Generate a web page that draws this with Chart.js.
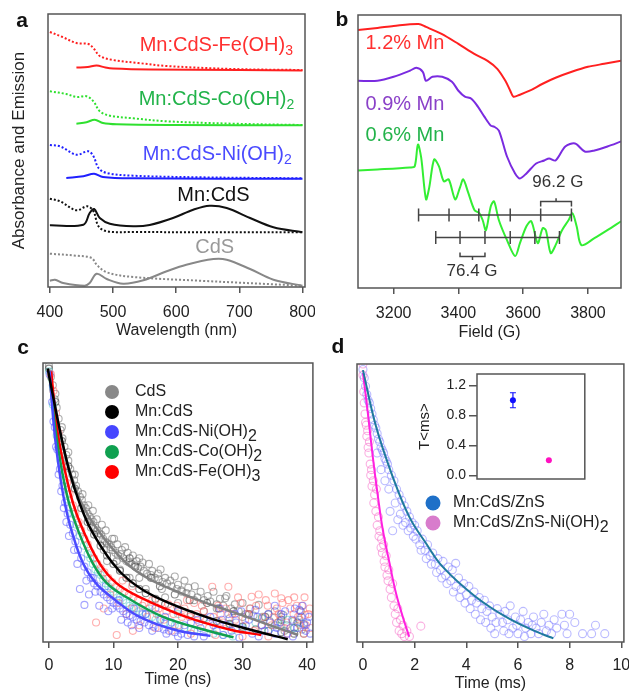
<!DOCTYPE html>
<html>
<head>
<meta charset="utf-8">
<script src="https://cdn.jsdelivr.net/npm/chart.js@4.4.0/dist/chart.umd.min.js"></script>
<style>
  html, body { margin: 0; padding: 0; background: #fff; }
  body { width: 629px; height: 695px; position: relative; overflow: hidden; }
  canvas { position: absolute; }
</style>
</head>
<body>
<canvas id="chartA" width="315" height="345" style="left:0;top:0"></canvas>
<canvas id="chartB" width="314" height="345" style="left:315px;top:0"></canvas>
<canvas id="chartC" width="318" height="360" style="left:0;top:335px"></canvas>
<canvas id="chartD" width="314" height="360" style="left:315px;top:335px"></canvas>
<canvas id="chartInset" width="185" height="120" style="left:405px;top:365px"></canvas>
<script>
const FONT = '"Liberation Sans", Arial, Helvetica, sans-serif';

// ---- panel a: absorbance (dotted) and emission (solid), offset traces ----
const ticksA = [400, 500, 600, 700, 800];
const feAbsX = [400, 420, 442, 461, 470, 479, 500, 540, 585, 690, 800];
const feAbsY = [255, 250, 244, 243, 238, 231, 227, 224, 221, 218, 217];
const feEmX = [442, 460, 474, 488, 500, 560, 700, 800];
const feEmY = [219.5, 220, 221.5, 219.5, 218.5, 217.5, 217, 216.5];
const coAbsX = [400, 426, 442, 458, 469, 479, 495, 532, 585, 690, 800];
const coAbsY = [195.7, 193, 190, 190.7, 185.7, 175.7, 171.3, 168.7, 165.7, 163.3, 162];
const coEmX = [442, 458, 471, 484, 506, 600, 800];
const coEmY = [163.3, 164.7, 167.3, 164, 162.7, 162, 161.7];
const niAbsX = [400, 416, 442, 461, 469, 477, 490, 532, 637, 800];
const niAbsY = [142, 140.7, 132.3, 135.7, 130.7, 119, 114, 111.3, 109.7, 108.7];
const niEmX = [426, 453, 470, 484, 532, 800];
const niEmY = [109, 110.7, 113.3, 110, 108.7, 108.3];
const mnAbsX = [400, 416, 442, 459, 469, 477, 490, 532, 800];
const mnAbsY = [88.3, 85.7, 76.7, 80.7, 75.7, 60.7, 55.7, 55, 54.7];
const mnEmX = [400, 453, 463, 470, 479, 495, 532, 558, 595, 627, 653, 680, 717, 754, 800];
const mnEmY = [61.7, 62.3, 74, 78, 69, 63.3, 60.7, 62, 69, 77.3, 81.3, 79, 69, 59.7, 54.7];
const cdsAbsX = [400, 442, 466, 474, 490, 532, 637, 800];
const cdsAbsY = [33.3, 31.3, 29, 22.3, 14.7, 10, 6.3, 1.3];
const cdsEmX = [400, 408, 421, 455, 463, 474, 490, 516, 548, 585, 616, 659, 680, 717, 754, 800];
const cdsEmY = [6.3, 7.3, 4, 1.3, 4, 13.3, 8, 3.3, 6.7, 15.7, 22.3, 28, 27.3, 18, 7.3, 1.3];

// ---- panel b: EPR spectra ----
const ticksB = [3200, 3400, 3600, 3800];
const epr12X = [3090, 3150, 3200, 3277, 3300, 3348, 3400, 3449, 3490, 3520, 3545, 3560, 3570, 3590, 3620, 3660, 3700, 3750, 3800, 3850, 3902];
const epr12Y = [259, 261, 263, 265, 262, 255, 245, 235, 228, 220, 208, 198, 192, 194, 198, 205, 211, 217, 222, 225, 228];
const epr09X = [3090, 3150, 3200, 3250, 3270, 3290, 3300, 3320, 3350, 3380, 3400, 3420, 3440, 3460, 3480, 3500, 3510, 3525, 3550, 3575, 3590, 3610, 3640, 3665, 3680, 3700, 3730, 3760, 3790, 3820, 3860, 3902];
const epr09Y = [208, 208, 212, 218, 221, 217, 208, 212, 212, 207, 198, 192, 190, 182, 172, 163, 162, 158, 132, 115, 110, 115, 125, 128, 130, 128, 142, 145, 137, 138, 142, 147];
const epr06X = [3090, 3150, 3250, 3265, 3275, 3285, 3300, 3310, 3325, 3340, 3355, 3370, 3390, 3405, 3415, 3430, 3450, 3465, 3475, 3485, 3500, 3510, 3525, 3550, 3575, 3590, 3610, 3625, 3645, 3660, 3670, 3685, 3700, 3720, 3740, 3752, 3765, 3780, 3820, 3860, 3902];
const epr06Y = [118, 119, 121, 122, 144, 131, 89, 101, 129, 122, 107, 109, 89, 101, 109, 96, 78, 75, 68, 58, 82, 87, 68, 48, 32, 45, 62, 67, 45, 60, 58, 35, 43, 58, 68, 75, 62, 43, 50, 58, 67];
const sticksA = [3277, 3371, 3463, 3560, 3654, 3749];   // 96.2 G spacing
const sticksB = [3330, 3405, 3482, 3560, 3636, 3712];   // 76.4 G spacing
const stickLevels = [73.3, 50.7];

// ---- panel c: transient PL decays (ns) ----
const ticksC = [0, 10, 20, 30, 40];
const fitCdsT = [0, 1, 2, 3, 4, 5, 7, 10, 12.9, 16, 20, 23.2, 28.3, 33.4, 38.6];
const fitCdsY = [0.98, 0.84, 0.72, 0.63, 0.56, 0.50, 0.42, 0.33, 0.265, 0.22, 0.18, 0.15, 0.109, 0.067, 0.025];
const fitMnT = [-0.2, 1.69, 3.12, 4.76, 6.56, 9.88, 12.5, 16.5, 24.2, 31.4, 37.0];
const fitMnY = [0.98, 0.76, 0.616, 0.497, 0.401, 0.282, 0.22, 0.162, 0.091, 0.043, 0.01];
const fitNiT = [0.1, 0.82, 1.59, 2.46, 3.48, 5.28, 7.3, 9.63, 13.98, 19.6, 25.0];
const fitNiY = [0.97, 0.76, 0.616, 0.497, 0.401, 0.282, 0.21, 0.162, 0.091, 0.043, 0.022];
const fitCoT = [0, 1.02, 2.0, 3.12, 4.5, 6.8, 9, 11.9, 17.6, 24.2, 28.6];
const fitCoY = [0.97, 0.76, 0.616, 0.497, 0.401, 0.282, 0.21, 0.162, 0.091, 0.043, 0.017];
const fitFeT = [0.35, 1.28, 2.46, 3.74, 5.28, 7.84, 10.5, 13.98, 21.15, 28.3, 32.9];
const fitFeY = [0.97, 0.76, 0.616, 0.497, 0.401, 0.282, 0.21, 0.162, 0.091, 0.043, 0.025];

const ptsCds = [[0.0,0.99],[0.3,0.95],[0.6,0.92],[0.9,0.87],[1.2,0.84],[1.5,0.8],[1.8,0.76],[2.1,0.73],[2.4,0.7],[2.7,0.67],[3.0,0.65],[3.3,0.62],[3.6,0.6],[3.9,0.58],[4.2,0.56],[4.5,0.54],[4.8,0.52],[5.1,0.51],[5.4,0.49],[5.7,0.48],[6.0,0.46],[6.3,0.45],[6.6,0.44],[6.9,0.43],[7.2,0.41],[7.5,0.4],[7.8,0.39],[8.1,0.385],[8.4,0.37],[8.7,0.36],[9.0,0.355],[9.3,0.35],[9.6,0.34],[9.9,0.33],[10.3,0.32],[10.7,0.31],[11.1,0.315],[11.5,0.3],[12.0,0.29],[12.4,0.285],[12.8,0.28],[13.3,0.275],[13.8,0.265],[14.2,0.27],[14.7,0.255],[15.2,0.245],[15.8,0.24],[16.4,0.23],[17.0,0.225],[17.6,0.215],[18.3,0.21],[19.0,0.2],[19.8,0.19],[20.5,0.185],[21.3,0.175],[22.1,0.17],[23.0,0.16],[24.0,0.15],[25.0,0.145],[26.0,0.135],[27.0,0.13],[28.2,0.12],[29.4,0.11],[30.5,0.1],[31.7,0.095],[33.0,0.085],[34.2,0.075],[35.5,0.07],[36.8,0.06],[38.0,0.05],[39.2,0.045],[8.2,0.42],[10.1,0.37],[11.8,0.34],[13.0,0.31],[14.0,0.3],[15.5,0.28],[17.3,0.26],[19.5,0.235],[21.0,0.22],[22.6,0.2],[25.5,0.18],[27.5,0.165],[30.0,0.14],[32.5,0.133],[35.0,0.11],[36.3,0.097],[38.8,0.08],[9.0,0.29],[11.0,0.26],[12.5,0.23],[15.0,0.19],[18.0,0.16],[20.0,0.14],[24.0,0.11],[28.0,0.085],[33.0,0.06],[36.5,0.04],[27.3,0.157],[20.6,0.18],
    [5.2,0.53],[6.1,0.49],[6.8,0.47],[7.4,0.44],[8.8,0.4],[9.8,0.37],[10.6,0.35],[11.3,0.33],[12.2,0.32],[13.6,0.29],[14.5,0.285],[16.0,0.255],[16.9,0.245],[18.0,0.23],[18.8,0.22],[20.0,0.205],[21.6,0.195],[23.5,0.18],[24.6,0.165],[26.5,0.155],[28.8,0.135],[31.2,0.12],[34.0,0.1],[36.0,0.09],[37.8,0.075],[39.5,0.065],[4.0,0.6],[3.0,0.68],[2.0,0.77],[1.0,0.89],[6.5,0.41],[8.5,0.33],[10.5,0.29],[14.0,0.23],[17.5,0.19],[22.5,0.15],[26,0.12],[30,0.09],[35,0.06],[39.5,0.03]];
const ptsMn = [[0,0.98],[1,0.86],[2,0.72],[3,0.63],[4,0.55],[5,0.48],[6,0.43],[7,0.385],[8,0.345],[9,0.31],[10,0.28],[11,0.255],[12,0.23],[13,0.21],[14,0.19],[15,0.175],[16.5,0.155],[18,0.135],[20,0.115],[22,0.1],[24,0.085],[26,0.075],[28,0.065],[30,0.055],[32,0.045],[34,0.04],[36,0.035],[38,0.03],[12.5,0.3],[13.4,0.27],[15.8,0.23],[17.2,0.2],[19.5,0.17],[21.8,0.15],[24.5,0.14],[26.3,0.12],[28.6,0.11],[31,0.1],[33.5,0.09],[36,0.08],[38.5,0.07],[39,0.11]];
const ptsNi = [[0.1,0.96],[0.5,0.86],[0.9,0.77],[1.3,0.69],[1.7,0.62],[2.1,0.56],[2.5,0.5],[2.9,0.46],[3.3,0.42],[3.7,0.39],[4.1,0.36],[4.5,0.33],[4.8,0.19],[5.0,0.3],[5.5,0.27],[5.5,0.133],[6.0,0.25],[6.5,0.23],[7.0,0.21],[7.5,0.2],[8.0,0.18],[8.5,0.17],[9.0,0.16],[9.5,0.15],[10,0.14],[10.5,0.13],[11,0.12],[11.5,0.11],[12,0.1],[12.5,0.095],[13,0.09],[13.6,0.08],[14.2,0.075],[14.8,0.07],[15.5,0.06],[16.2,0.055],[17,0.05],[17.8,0.045],[18.6,0.04],[19.5,0.035],[20.5,0.03],[21.5,0.025],[22.5,0.02],[6.2,0.17],[7.8,0.13],[9.2,0.11],[11.2,0.08],[12.8,0.06],[15,0.1],[16.5,0.12],[18,0.09],[20,0.11],[22,0.07],[23.5,0.05],[25,0.09],[26.5,0.12],[27.5,0.06],[28.8,0.1],[30,0.045],[31,0.08],[32,0.115],[33,0.06],[34,0.1],[35,0.13],[35.8,0.07],[36.6,0.11],[37.4,0.05],[38.1,0.12],[38.8,0.115],[39.3,0.13],[39.8,0.04],[40.3,0.09],[24,0.02],[27,0.025],[29.5,0.015],[32.5,0.02],[35,0.03],[37.8,0.02],[39.6,0.06],
    [25.5,0.06],[26,0.04],[26.8,0.08],[27.8,0.1],[28.3,0.04],[29,0.07],[29.8,0.11],[30.5,0.06],[31.5,0.03],[32.3,0.09],[33.4,0.04],[34.3,0.07],[35.3,0.05],[36,0.1],[36.9,0.03],[37.7,0.08],[38.5,0.05],[39.1,0.09],[40.0,0.07],[40.5,0.03],[21,0.06],[23,0.08],[19,0.07],[17.3,0.08],[14.5,0.1],[13.2,0.12],[10.8,0.15],[8.8,0.2],[7.2,0.18],[6.8,0.23],[5.8,0.22],[4.4,0.28],[3.9,0.33],[3.1,0.38],[2.7,0.43],[2.3,0.48],[1.9,0.54],[1.5,0.6],[1.1,0.7],[0.7,0.79],[9.8,0.12],[12.2,0.07],[14,0.05],[16,0.04],[18.2,0.03],[20,0.02]];
const ptsCo = [[0.0,0.97],[0.6,0.85],[1.2,0.74],[1.8,0.65],[2.4,0.58],[3.0,0.51],[3.6,0.46],[4.2,0.42],[4.8,0.38],[5.4,0.345],[6.0,0.315],[6.8,0.28],[7.6,0.25],[8.4,0.225],[9.2,0.2],[10,0.18],[11,0.16],[12,0.14],[13,0.125],[14,0.11],[15,0.1],[16.5,0.08],[18,0.07],[19.5,0.06],[21,0.05],[22.5,0.04],[24,0.035],[25.5,0.03],[27,0.025],[28.5,0.02],[30,0.05],[32,0.07],[34,0.04],[36,0.06],[38,0.05],
    [6.4,0.3],[7.2,0.26],[8,0.24],[8.8,0.21],[9.6,0.19],[10.5,0.17],[11.5,0.15],[12.5,0.13],[13.5,0.12],[14.5,0.105],[16,0.09],[17.2,0.08],[18.8,0.065],[20.2,0.055],[22,0.045],[16,0.13],[20,0.1],[24,0.08],[28,0.06],[33,0.09],[37,0.08],[39,0.07]];
const ptsFe = [[0.3,0.96],[0.7,0.9],[1.1,0.82],[1.5,0.75],[1.9,0.69],[2.3,0.63],[2.8,0.57],[3.2,0.53],[3.7,0.49],[4.1,0.46],[4.6,0.43],[5.0,0.4],[5.5,0.37],[6.0,0.35],[6.5,0.32],[7.0,0.3],[7.5,0.28],[8.0,0.265],[8.6,0.25],[9.2,0.23],[9.8,0.215],[10.4,0.2],[11.0,0.19],[11.7,0.18],[12.4,0.17],[13.1,0.16],[13.8,0.15],[7.3,0.07],[10.5,0.025],[8.5,0.12],[12,0.1],[14.5,0.13],[15.2,0.09],[16,0.15],[17,0.12],[17.8,0.08],[18.5,0.135],[19.3,0.1],[20.1,0.06],[21,0.12],[21.8,0.09],[22.5,0.14],[23.3,0.07],[24,0.11],[24.8,0.05],[25.3,0.198],[25.5,0.09],[26.2,0.13],[27,0.07],[27.8,0.198],[28.4,0.1],[29,0.05],[29.7,0.14],[30.4,0.08],[31.1,0.12],[31.4,0.162],[31.8,0.04],[32.5,0.17],[33.2,0.09],[33.9,0.13],[34.5,0.06],[35.0,0.174],[35.6,0.1],[36.0,0.157],[36.2,0.14],[36.8,0.07],[37.4,0.12],[38,0.16],[38.6,0.09],[39.2,0.13],[39.7,0.097],[39.8,0.06],[40.2,0.1],[39.5,0.03],[37.0,0.03],[34.0,0.02],[30,0.02],[25.8,0.025],[22,0.03],[19,0.04],[16.5,0.05],[14,0.06],[13,0.04],
    [14.8,0.14],[15.6,0.12],[16.7,0.1],[17.4,0.14],[18.2,0.11],[19.8,0.13],[20.6,0.09],[21.4,0.15],[22.9,0.1],[23.7,0.13],[24.4,0.08],[26.6,0.1],[27.4,0.12],[28.9,0.08],[29.3,0.16],[30.8,0.1],[32.1,0.13],[32.9,0.06],[33.6,0.15],[34.8,0.09],[35.3,0.12],[36.5,0.05],[37.1,0.15],[37.9,0.1],[38.4,0.13],[38.9,0.06],[39.6,0.16],[40.4,0.12],[40.5,0.05],[9.5,0.17],[10.8,0.14],[12.8,0.12],[11.4,0.22],[12.9,0.2]];

// ---- panel d: Mn emission decays (ms) ----
const ticksD = [0, 2, 4, 6, 8, 10];
const fitZnsT = [0, 0.51, 1.15, 1.79, 2.44, 3.08, 4.36, 5.64, 6.92, 7.37];
const fitZnsY = [0.978, 0.774, 0.595, 0.451, 0.355, 0.271, 0.163, 0.085, 0.029, 0.013];
const fitZnsNiT = [0, 0.19, 0.38, 0.58, 0.77, 1.03, 1.28, 1.54, 1.79];
const fitZnsNiY = [0.967, 0.823, 0.667, 0.523, 0.403, 0.283, 0.175, 0.091, 0.019];
const ptsZns = [[0.0,0.98],[0.05,0.95],[0.1,0.92],[0.15,0.89],[0.2,0.87],[0.25,0.86],[0.3,0.84],[0.35,0.82],[0.4,0.8],[0.45,0.78],[0.5,0.77],[0.55,0.75],[0.6,0.73],[0.65,0.72],[0.7,0.7],[0.75,0.69],[0.8,0.68],[0.85,0.66],[0.9,0.65],[0.95,0.64],[1.0,0.62],[1.05,0.47],[1.1,0.6],[1.15,0.4],[1.2,0.58],[1.3,0.55],[1.35,0.44],[1.4,0.53],[1.5,0.51],[1.55,0.42],[1.6,0.49],[1.7,0.47],[1.75,0.4],[1.8,0.45],[1.9,0.43],[1.95,0.38],[2.0,0.42],[2.1,0.4],[2.2,0.35],[2.3,0.37],[2.4,0.33],[2.5,0.35],[2.6,0.31],[2.7,0.32],[2.8,0.28],[2.9,0.3],[3.0,0.26],[3.1,0.29],[3.2,0.24],[3.3,0.27],[3.4,0.22],[3.46,0.26],[3.59,0.283],[3.6,0.2],[3.7,0.23],[3.8,0.19],[3.9,0.21],[4.0,0.17],[4.1,0.2],[4.2,0.15],[4.3,0.18],[4.4,0.14],[4.5,0.16],[4.6,0.12],[4.7,0.15],[4.8,0.11],[4.9,0.13],[5.0,0.09],[5.1,0.03],[5.2,0.12],[5.3,0.1],[5.4,0.07],[5.5,0.11],[5.6,0.08],[5.7,0.13],[5.8,0.05],[5.9,0.09],[6.0,0.03],[6.1,0.08],[6.2,0.11],[6.3,0.05],[6.4,0.07],[6.5,0.03],[6.6,0.09],[6.7,0.05],[6.8,0.03],[6.9,0.07],[7.0,0.1],[7.1,0.04],[7.2,0.06],[7.3,0.03],[7.5,0.05],[7.7,0.1],[7.9,0.03],[8.2,0.07],[8.5,0.03],[8.85,0.03],[9.36,0.03],
    [0.55,0.68],[0.7,0.62],[0.85,0.58],[1.0,0.55],[1.25,0.5],[1.45,0.46],[1.65,0.43],[1.85,0.41],[2.05,0.37],[2.25,0.33],[2.45,0.3],[2.65,0.28],[2.85,0.25],[3.05,0.23],[3.25,0.21],[3.5,0.18],[3.75,0.16],[3.95,0.14],[4.15,0.12],[4.35,0.1],[4.55,0.08],[4.75,0.07],[4.95,0.05],[5.15,0.07],[5.45,0.04],[5.65,0.03],[5.95,0.06],[6.25,0.02],[6.55,0.06],[7.4,0.08],[7.8,0.06],[8.0,0.1],[9.0,0.06]];
const ptsZnsNi = [[0.0,1.0],[0.0,0.96],[0.03,0.9],[0.05,0.86],[0.08,0.82],[0.1,0.79],[0.13,0.78],[0.15,0.74],[0.18,0.76],[0.2,0.7],[0.23,0.68],[0.25,0.72],[0.28,0.64],[0.3,0.6],[0.33,0.62],[0.35,0.56],[0.4,0.58],[0.42,0.5],[0.45,0.53],[0.5,0.47],[0.52,0.55],[0.55,0.42],[0.6,0.45],[0.62,0.38],[0.65,0.4],[0.7,0.34],[0.72,0.37],[0.75,0.32],[0.8,0.35],[0.82,0.29],[0.85,0.27],[0.9,0.31],[0.93,0.24],[0.97,0.22],[1.0,0.26],[1.05,0.19],[1.1,0.16],[1.15,0.21],[1.2,0.13],[1.25,0.1],[1.3,0.07],[1.35,0.12],[1.4,0.04],[1.45,0.08],[1.5,0.03],[1.55,0.06],[1.6,0.02],[1.7,0.04],[1.8,0.02],[2.24,0.057]];

// inset: average lifetime <ms>
const insetX = [1, 2];
const insetTau = [1.0, 0.2];
const insetErr = [0.1, 0];
const insetTicksMajor = [0, 0.4, 0.8, 1.2];
const insetTicksMinor = [0, 0.2, 0.4, 0.6, 0.8, 1.0, 1.2];

// legends
const legendC = ['CdS', 'Mn:CdS', 'Mn:CdS-Ni(OH)', 'Mn:CdS-Co(OH)', 'Mn:CdS-Fe(OH)'];
const legendCSub = ['', '', '2', '2', '3'];
const legendD = ['Mn:CdS/ZnS', 'Mn:CdS/ZnS-Ni(OH)'];
const legendDSub = ['', '2'];

function xy(xs, ys) { return xs.map((x, i) => ({ x: x, y: ys[i] })); }
function pts(arr) { return arr.map(p => ({ x: p[0], y: p[1] })); }

function drawRich(ctx, text, sub, x, y, size, color, align, bold, subSize, subDy) {
    ctx.save();
    const f = (bold ? 'bold ' : '') + size + 'px ' + FONT;
    const sf = (subSize || Math.round(size * 0.72)) + 'px ' + FONT;
    ctx.font = f;
    const w1 = ctx.measureText(text).width;
    ctx.font = sf;
    const w2 = sub ? ctx.measureText(sub).width : 0;
    let x0 = x;
    if (align === 'right') x0 = x - w1 - w2;
    else if (align === 'center') x0 = x - (w1 + w2) / 2;
    ctx.fillStyle = color;
    ctx.textBaseline = 'middle';
    ctx.textAlign = 'left';
    ctx.font = f;
    ctx.fillText(text, x0, y);
    if (sub) {
        ctx.font = sf;
        ctx.fillText(sub, x0 + w1, y + (subDy !== undefined ? subDy : size * 0.32));
    }
    ctx.restore();
}

const framePlugin = {
    id: 'frame',
    beforeDatasetsDraw(chart, args, opts) {
        if (!opts.fill) return;
        const a = chart.chartArea;
        chart.ctx.save();
        chart.ctx.fillStyle = opts.fill;
        chart.ctx.fillRect(a.left, a.top, a.right - a.left, a.bottom - a.top);
        chart.ctx.restore();
    },
    afterDraw(chart, args, opts) {
        const a = chart.chartArea, ctx = chart.ctx;
        ctx.save();
        ctx.strokeStyle = opts.color || '#555';
        ctx.lineWidth = opts.width || 1.5;
        ctx.strokeRect(a.left, a.top, a.right - a.left, a.bottom - a.top);
        ctx.restore();
    }
};

const textPlugin = {
    id: 'texts',
    afterDraw(chart, args, opts) {
        const ctx = chart.ctx;
        (opts.items || []).forEach(it => {
            let px = it.x, py = it.y;
            if (it.data) {
                px = chart.scales.x.getPixelForValue(it.x);
                py = chart.scales.y.getPixelForValue(it.y);
            }
            if (it.dot) {
                ctx.save();
                ctx.fillStyle = it.dot;
                ctx.beginPath();
                ctx.arc(px - it.dotGap, py, it.dotR, 0, Math.PI * 2);
                ctx.fill();
                ctx.restore();
            }
            drawRich(ctx, it.text, it.sub, px, py, it.size, it.color, it.align, it.bold, it.subSize, it.subDy);
        });
    }
};

// fixed box sizes, no label overhang padding, so chart areas sit where the reference has them
function fixBox(s, w, h) {
    if (w !== null) s.width = w;
    if (h !== null) s.height = h;
    s.paddingLeft = 0; s.paddingRight = 0; s.paddingTop = 0; s.paddingBottom = 0;
}

function axisX(min, max, tickList, title, height, tickPad, titlePad) {
    return {
        type: 'linear', position: 'bottom', min: min, max: max,
        afterBuildTicks: s => { s.ticks = tickList.map(v => ({ value: v })); },
        afterFit: s => fixBox(s, null, height),
        grid: { display: true, drawOnChartArea: false, drawTicks: true, tickLength: 6, color: '#555', lineWidth: 1.5 },
        border: { display: false },
        ticks: { color: '#222', padding: tickPad, font: { family: FONT, size: 16 }, maxRotation: 0, callback: v => String(v) },
        title: { display: true, text: title, color: '#222', font: { family: FONT, size: 16 }, padding: { top: 0, bottom: titlePad } }
    };
}

function axisY(min, max, width, title) {
    return {
        type: 'linear', min: min, max: max,
        afterFit: s => fixBox(s, width, null),
        grid: { display: false },
        border: { display: false },
        ticks: { display: false },
        title: title ? { display: true, text: title, color: '#222', font: { family: FONT, size: 17 }, padding: { top: 9, bottom: 0 } } : { display: false }
    };
}

function line(data, color, width, dash, tension, order) {
    return { data: data, showLine: true, borderColor: color, borderWidth: width, borderDash: dash || [],
        pointRadius: 0, tension: tension, fill: false, order: order || 0 };
}
function cloud(data, color, r, order) {
    return { data: data, showLine: false, pointStyle: 'circle', pointRadius: r, pointBorderWidth: 1.1,
        pointBorderColor: color, pointBackgroundColor: 'rgba(0,0,0,0)', order: order };
}

const common = {
    responsive: false, animation: false, events: [],
    plugins: { legend: { display: false }, tooltip: { enabled: false } }
};

// ---------------- panel a ----------------
new Chart(document.getElementById('chartA'), {
    type: 'scatter',
    data: { datasets: [
        line(xy(feAbsX, feAbsY), '#ff2020', 2, [2, 2], 0.35),
        line(xy(feEmX, feEmY), '#ff2020', 2, null, 0.35),
        line(xy(coAbsX, coAbsY), '#2fe02f', 2, [2, 2], 0.35),
        line(xy(coEmX, coEmY), '#2fe02f', 2, null, 0.35),
        line(xy(niAbsX, niAbsY), '#2020ff', 2, [2, 2], 0.35),
        line(xy(niEmX, niEmY), '#2020ff', 2, null, 0.35),
        line(xy(mnAbsX, mnAbsY), '#111', 2, [2, 2], 0.35),
        line(xy(mnEmX, mnEmY), '#111', 2, null, 0.35),
        line(xy(cdsAbsX, cdsAbsY), '#888', 2, [2, 2], 0.35),
        line(xy(cdsEmX, cdsEmY), '#888', 2, null, 0.35)
    ] },
    options: Object.assign({}, common, {
        layout: { padding: { top: 14, right: 10, left: 0, bottom: 0 } },
        scales: { x: axisX(397, 804, ticksA, 'Wavelength (nm)', 58, 10, 5), y: axisY(0, 273, 48, 'Absorbance and Emission') },
        plugins: Object.assign({}, common.plugins, {
            frame: {},
            texts: { items: [
                { text: 'a', x: 22, y: 21, size: 21, bold: true, color: '#111', align: 'center' },
                { data: true, text: 'Mn:CdS-Fe(OH)', sub: '3', x: 785, y: 242, size: 20, color: '#ff3030', align: 'right' },
                { data: true, text: 'Mn:CdS-Co(OH)', sub: '2', x: 787, y: 188, size: 20, color: '#22b34a', align: 'right' },
                { data: true, text: 'Mn:CdS-Ni(OH)', sub: '2', x: 783, y: 133, size: 20, color: '#4a4aff', align: 'right' },
                { data: true, text: 'Mn:CdS', x: 659, y: 92, size: 20, color: '#111', align: 'center' },
                { data: true, text: 'CdS', x: 661, y: 40, size: 20, color: '#999', align: 'center' }
            ] }
        })
    }),
    plugins: [framePlugin, textPlugin]
});

// ---------------- panel b ----------------
const bracketTop = 86.7, bracketBot = 31.7;
const bracketA = [
    { x: sticksA[4], y: bracketTop - 5 }, { x: sticksA[4], y: bracketTop },
    { x: (sticksA[4] + sticksA[5]) / 2, y: bracketTop }, { x: (sticksA[4] + sticksA[5]) / 2, y: bracketTop + 3.5 },
    { x: (sticksA[4] + sticksA[5]) / 2, y: bracketTop }, { x: sticksA[5], y: bracketTop }, { x: sticksA[5], y: bracketTop - 5 }
];
const bracketB = [
    { x: sticksB[1], y: bracketBot + 4 }, { x: sticksB[1], y: bracketBot },
    { x: (sticksB[1] + sticksB[2]) / 2, y: bracketBot }, { x: (sticksB[1] + sticksB[2]) / 2, y: bracketBot - 3.5 },
    { x: (sticksB[1] + sticksB[2]) / 2, y: bracketBot }, { x: sticksB[2], y: bracketBot }, { x: sticksB[2], y: bracketBot + 4 }
];
function stickTicks(list, level) {
    return { data: list.map(v => ({ x: v, y: level })), showLine: false, pointStyle: 'line', rotation: 90,
        pointRadius: 6.5, pointBorderWidth: 1.5, pointBorderColor: '#444', order: -1 };
}
new Chart(document.getElementById('chartB'), {
    type: 'scatter',
    data: { datasets: [
        line(xy(epr12X, epr12Y), '#ff2020', 2, null, 0.3),
        line(xy(epr09X, epr09Y), '#7a2be0', 2, null, 0.3),
        line(xy(epr06X, epr06Y), '#33ee33', 2, null, 0.3),
        line([{ x: sticksA[0], y: stickLevels[0] }, { x: sticksA[5], y: stickLevels[0] }], '#444', 1.5, null, 0, -1),
        line([{ x: sticksB[0], y: stickLevels[1] }, { x: sticksB[5], y: stickLevels[1] }], '#444', 1.5, null, 0, -1),
        stickTicks(sticksA, stickLevels[0]),
        stickTicks(sticksB, stickLevels[1]),
        line(bracketA, '#444', 1.5, null, 0, -1),
        line(bracketB, '#444', 1.5, null, 0, -1)
    ] },
    options: Object.assign({}, common, {
        layout: { padding: { top: 15, right: 3, left: 0, bottom: 0 } },
        scales: { x: axisX(3090, 3902, ticksB, 'Field (G)', 57, 10, 3), y: axisY(0, 274, 43) },
        plugins: Object.assign({}, common.plugins, {
            frame: {},
            texts: { items: [
                { text: 'b', x: 27, y: 20, size: 21, bold: true, color: '#111', align: 'center' },
                { data: true, text: '1.2% Mn', x: 3113, y: 245, size: 20, color: '#ff3030', align: 'left' },
                { data: true, text: '0.9% Mn', x: 3113, y: 184, size: 20, color: '#8a40c8', align: 'left' },
                { data: true, text: '0.6% Mn', x: 3113, y: 153, size: 20, color: '#22b34a', align: 'left' },
                { data: true, text: '96.2 G', x: 3707, y: 106, size: 17, color: '#333', align: 'center' },
                { data: true, text: '76.4 G', x: 3442, y: 17, size: 17, color: '#333', align: 'center' }
            ] }
        })
    }),
    plugins: [framePlugin, textPlugin]
});

// ---------------- panel c ----------------
const colorsC = ['#888888', '#000000', '#4646ff', '#10a050', '#ff0000'];
new Chart(document.getElementById('chartC'), {
    type: 'scatter',
    data: { datasets: [
        line(xy(fitCdsT, fitCdsY), '#808080', 2.5, null, 0.4, 1),
        line(xy(fitMnT, fitMnY), '#000', 2.5, null, 0.4, 0),
        line(xy(fitNiT, fitNiY), '#4a4aff', 2.5, null, 0.4, 0),
        line(xy(fitCoT, fitCoY), '#10a050', 2.5, null, 0.4, 0),
        line(xy(fitFeT, fitFeY), '#ff0000', 2.5, null, 0.4, 0),
        cloud(pts(ptsNi), 'rgba(90,90,255,0.55)', 3.5, 10),
        cloud(pts(ptsFe), 'rgba(255,110,110,0.55)', 3.5, 11),
        cloud(pts(ptsCo), 'rgba(70,200,200,0.5)', 3.5, 12),
        cloud(pts(ptsMn), 'rgba(60,60,60,0.6)', 3.5, 13),
        cloud(pts(ptsCds), 'rgba(120,120,120,0.6)', 3.5, 14)
    ] },
    options: Object.assign({}, common, {
        layout: { padding: { top: 28, right: 3, left: 0, bottom: 0 } },
        scales: { x: axisX(-0.92, 40.9, ticksC, 'Time (ns)', 53, 8, 6), y: axisY(0, 1, 43) },
        plugins: Object.assign({}, common.plugins, {
            frame: {},
            texts: { items: [{ text: 'c', x: 23, y: 13, size: 21, bold: true, color: '#111', align: 'center' }]
                .concat(legendC.map((t, i) => ({ text: t, sub: legendCSub[i], x: 135, y: 57 + i * 20, size: 16,
                    subSize: 16, subDy: 5, color: '#222', align: 'left', dot: colorsC[i], dotGap: 23, dotR: 7 }))) }
        })
    }),
    plugins: [framePlugin, textPlugin]
});

// ---------------- panel d ----------------
const colorsD = ['#1e70c8', '#d87ccc'];
new Chart(document.getElementById('chartD'), {
    type: 'scatter',
    data: { datasets: [
        line(xy(fitZnsT, fitZnsY), '#1f7a9e', 2, null, 0.4, 0),
        line(xy(fitZnsNiT, fitZnsNiY), '#ff20e0', 2, null, 0.4, 0),
        cloud(pts(ptsZns), 'rgba(120,120,255,0.5)', 4, 10),
        cloud(pts(ptsZnsNi), 'rgba(245,110,200,0.55)', 4, 11)
    ] },
    options: Object.assign({}, common, {
        layout: { padding: { top: 29, right: 3, left: 0, bottom: 0 } },
        scales: { x: axisX(-0.23, 10.1, ticksD, 'Time (ms)', 53, 8, 2), y: axisY(0, 1, 42) },
        plugins: Object.assign({}, common.plugins, {
            frame: {},
            texts: { items: [{ text: 'd', x: 23, y: 12, size: 21, bold: true, color: '#111', align: 'center' }]
                .concat(legendD.map((t, i) => ({ text: t, sub: legendDSub[i], x: 138, y: 168 + i * 20, size: 16,
                    subSize: 16, subDy: 5, color: '#222', align: 'left', dot: colorsD[i], dotGap: 20, dotR: 7.5 }))) }
        })
    }),
    plugins: [framePlugin, textPlugin]
});

// ---------------- inset ----------------
const errBar = [{ x: insetX[0], y: insetTau[0] - insetErr[0] }, { x: insetX[0], y: insetTau[0] + insetErr[0] }];
new Chart(document.getElementById('chartInset'), {
    type: 'scatter',
    data: { datasets: [
        line(errBar, '#1010ff', 1.2, null, 0, 1),
        { data: errBar, showLine: false, pointStyle: 'line', pointRadius: 3, pointBorderWidth: 1.2, pointBorderColor: '#1010ff', order: 1 },
        { data: [{ x: insetX[0], y: insetTau[0] }], pointRadius: 3, pointBackgroundColor: '#1010ff', pointBorderWidth: 0, order: 0 },
        { data: [{ x: insetX[1], y: insetTau[1] }], pointRadius: 3, pointBackgroundColor: '#ff10c0', pointBorderWidth: 0, order: 0 }
    ] },
    options: Object.assign({}, common, {
        layout: { padding: { top: 9, right: 3, left: 0, bottom: 6 } },
        scales: {
            x: { type: 'linear', min: 0, max: 3, display: false },
            y: {
                type: 'linear', position: 'left', min: -0.05, max: 1.35,
                afterBuildTicks: s => { s.ticks = insetTicksMajor.map(v => ({ value: v })); },
                afterFit: s => fixBox(s, 72, null),
                grid: { display: true, drawOnChartArea: false, tickLength: 8, color: '#555', lineWidth: 1.5 },
                border: { display: false },
                ticks: { color: '#222', padding: 3, font: { family: FONT, size: 14 }, callback: v => Number(v).toFixed(1) },
                title: { display: true, text: 'T<ms>', color: '#222', font: { family: FONT, size: 15 }, padding: { top: 11, bottom: 0 } }
            },
            y2: {
                type: 'linear', position: 'left', min: -0.05, max: 1.35,
                afterBuildTicks: s => { s.ticks = insetTicksMinor.map(v => ({ value: v })); },
                afterFit: s => fixBox(s, 0, null),
                grid: { display: true, drawOnChartArea: false, tickLength: 3, color: '#555', lineWidth: 1.5 },
                border: { display: false },
                ticks: { display: false }
            }
        },
        plugins: Object.assign({}, common.plugins, { frame: { fill: '#fff' } })
    }),
    plugins: [framePlugin]
});
</script>
</body>
</html>
